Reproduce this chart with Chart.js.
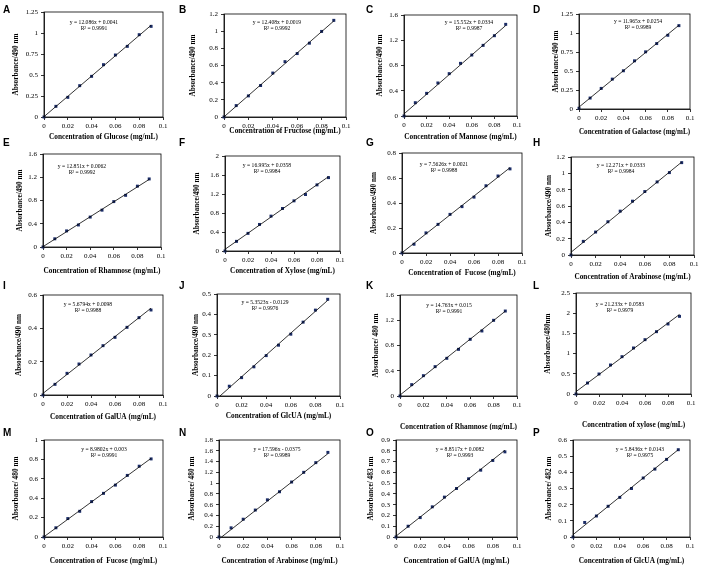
<!DOCTYPE html>
<html>
<head>
<meta charset="utf-8">
<script src="https://cdn.jsdelivr.net/npm/chart.js@4.4.0/dist/chart.umd.min.js"></script>
<style>
  body { margin: 0; background: #fff; width: 708px; height: 575px; position: relative; overflow: hidden; }
  canvas { position: absolute; }
  .tag { position: absolute; font: bold 10px "Liberation Sans", Arial, sans-serif; line-height: 10px; color: #000; }
</style>
</head>
<body>
<script>
// concentrations (mg/mL), same for every panel
const conc = [0, 0.01, 0.02, 0.03, 0.04, 0.05, 0.06, 0.07, 0.08, 0.09];

// absorbance readings, one array per panel
const glucose   = [0, 0.127, 0.234, 0.373, 0.484, 0.623, 0.738, 0.841, 0.98, 1.079];
const fructose  = [0, 0.133, 0.246, 0.367, 0.512, 0.645, 0.739, 0.86, 0.997, 1.126];
const mannose   = [0, 0.211, 0.359, 0.523, 0.671, 0.834, 0.966, 1.119, 1.272, 1.452];
const galactose = [0.01, 0.144, 0.271, 0.393, 0.503, 0.634, 0.752, 0.861, 0.97, 1.097];
const rhamnose  = [0, 0.141, 0.277, 0.379, 0.515, 0.634, 0.781, 0.889, 1.047, 1.171];
const xylose    = [0, 0.203, 0.371, 0.559, 0.734, 0.895, 1.056, 1.189, 1.392, 1.545];
const fucose    = [0, 0.07, 0.161, 0.229, 0.309, 0.371, 0.447, 0.538, 0.616, 0.673];
const arabinose = [0, 0.167, 0.281, 0.407, 0.537, 0.659, 0.777, 0.895, 1.009, 1.131];
const galua     = [0, 0.064, 0.13, 0.186, 0.24, 0.296, 0.346, 0.406, 0.464, 0.51];
const glcua     = [0, 0.048, 0.09, 0.143, 0.198, 0.249, 0.303, 0.362, 0.421, 0.474];
const rhamnose2 = [0, 0.18, 0.322, 0.465, 0.597, 0.739, 0.898, 1.03, 1.199, 1.346];
const xylose2   = [0, 0.272, 0.495, 0.718, 0.924, 1.139, 1.345, 1.543, 1.733, 1.922];
const fucose2   = [0, 0.095, 0.19, 0.265, 0.365, 0.45, 0.535, 0.635, 0.73, 0.805];
const arabinose2= [0, 0.17, 0.33, 0.5, 0.69, 0.84, 1.02, 1.2, 1.38, 1.57];
const galua2    = [0, 0.1, 0.18, 0.28, 0.37, 0.45, 0.54, 0.62, 0.71, 0.79];
const glcua2    = [0, 0.09, 0.13, 0.19, 0.245, 0.3, 0.365, 0.42, 0.48, 0.54];

const series = [glucose, fructose, mannose, galactose, rhamnose, xylose, fucose, arabinose,
  galua, glcua, rhamnose2, xylose2, fucose2, arabinose2, galua2, glcua2];

const letters = ["A", "B", "C", "D", "E", "F", "G", "H", "I", "J", "K", "L", "M", "N", "O", "P"];
const slopes = [12.086, 12.408, 15.552, 11.965, 12.851, 16.995, 7.5626, 12.271,
  5.6794, 5.3523, 14.763, 21.233, 8.9802, 17.596, 8.8517, 5.8436];
const intercepts = [0.0041, 0.0019, 0.0334, 0.0254, 0.0062, 0.0358, 0.0021, 0.0333,
  0.0098, -0.0129, 0.015, 0.0583, 0.003, -0.0375, 0.0082, 0.0143];
const r2 = ["0.9991", "0.9992", "0.9987", "0.9989", "0.9992", "0.9984", "0.9988", "0.9984",
  "0.9988", "0.9976", "0.9991", "0.9979", "0.9991", "0.9989", "0.9993", "0.9975"];
const yMax = [1.25, 1.2, 1.6, 1.25, 1.6, 2, 0.8, 1.2, 0.6, 0.5, 1.6, 2.5, 1, 1.8, 0.9, 0.6];
const yStep = [0.25, 0.2, 0.4, 0.25, 0.4, 0.4, 0.2, 0.2, 0.2, 0.1, 0.4, 0.5, 0.2, 0.2, 0.1, 0.1];
const yTitles = ["Absorbance/490 nm", "Absorbance/490 nm", "Absorbance/490 nm", "Absorbance/490 nm",
  "Absorbance/490 nm", "Absorbance/490 nm", "Absorbance/490 nm", "Absorbance/490 nm",
  "Absorbance/490 nm", "Absorbance/490 nm", "Absorbance/ 480 nm", "Absorbance/480nm",
  "Absorbance/ 480 nm", "Absorbance/ 480 nm", "Absorbance/ 483 nm", "Absorbance/ 482 nm"];
const xTitles = ["Glucose", "Fructose", "Mannose", "Galactose", "Rhamnose", "Xylose", " Fucose", "Arabinose",
  "GalUA", "GlcUA", "Rhamnose", "xylose", " Fucose", "Arabinose", "GalUA", "GlcUA"]
  .map(s => "Concentration of " + s + " (mg/mL)");

// page layout: [plotLeft, plotRight, plotTop, plotBottom, yTitleX, xTitleY, eqX, eqY]
const boxes = [
  [44, 163, 12, 117, 16, 137, 94, 23],
  [224, 346, 14, 117, 193, 131, 277, 23],
  [404, 517, 15, 116, 380, 137, 469, 23],
  [579, 690, 14, 109, 556, 132, 638, 22],
  [43, 161, 154, 247, 20, 271, 82, 167],
  [225, 340, 156, 251, 197, 271, 267, 166],
  [402, 522, 153, 253, 374, 273, 444, 165],
  [571, 694, 157, 255, 549, 277, 621, 166],
  [43, 163, 295, 395, 19, 417, 88, 305],
  [217, 340, 294, 396, 196, 416, 265, 303],
  [400, 517, 295, 396, 376, 427, 449, 306],
  [576, 691, 293, 394, 548, 425, 620, 305],
  [44, 163, 440, 537, 16, 561, 104, 450],
  [219, 340, 440, 537, 192, 561, 277, 450],
  [396, 517, 440, 537, 371, 561, 460, 450],
  [573, 690, 440, 537, 549, 561, 640, 450],
];
const rowTop = [0, 138, 280, 426];
const rowH = [145, 145, 150, 149];
const letterTop = [5, 138, 281, 428];
const letterX = [3, 179, 366, 533];

const serif = "'Liberation Serif', 'Times New Roman', serif";
const titleSize = 7.3;
const titleLh = titleSize * 1.2;
const fmt = v => String(+Number(v).toFixed(3));

const frame = {
  id: "frame",
  afterDraw(chart) {
    const a = chart.chartArea;
    const ctx = chart.ctx;
    ctx.save();
    ctx.strokeStyle = "#000";
    ctx.lineWidth = 0.8;
    ctx.strokeRect(a.left, a.top, a.right - a.left, a.bottom - a.top);
    ctx.restore();
  },
};

function equationText(i) {
  const b = intercepts[i];
  const sign = b < 0 ? "- " : "+ ";
  return ["y = " + slopes[i] + "x " + sign + Math.abs(b), "R\u00b2 = " + r2[i]];
}

function makePanel(i) {
  const col = i % 4, row = Math.floor(i / 4);
  const [L, R, T, B, ytx, xty, ex, ey] = boxes[i];
  const ox = col * 177, oy = rowTop[row], W = 177, H = rowH[row];

  const canvas = document.createElement("canvas");
  canvas.width = W;
  canvas.height = H;
  canvas.style.left = ox + "px";
  canvas.style.top = oy + "px";
  document.body.appendChild(canvas);

  const tag = document.createElement("div");
  tag.className = "tag";
  tag.style.left = letterX[col] + "px";
  tag.style.top = letterTop[row] + "px";
  tag.textContent = letters[i];
  document.body.appendChild(tag);

  const ys = series[i];
  const lines = equationText(i);
  const eq = {
    id: "eq",
    afterDraw(chart) {
      const ctx = chart.ctx;
      ctx.save();
      ctx.fillStyle = "#000";
      ctx.font = "5.6px " + serif;
      ctx.textAlign = "center";
      ctx.textBaseline = "middle";
      ctx.fillText(lines[0], ex - ox, ey - oy);
      ctx.fillText(lines[1], ex - ox, ey - oy + 6);
      ctx.restore();
    },
  };

  const tickFont = { family: serif, size: 7 };
  const titleFont = { family: serif, size: titleSize, weight: "bold" };

  new Chart(canvas.getContext("2d"), {
    data: {
      datasets: [
        {
          type: "line",
          data: [{ x: 0, y: intercepts[i] }, { x: 0.09, y: slopes[i] * 0.09 + intercepts[i] }],
          borderColor: "#000",
          borderWidth: 0.8,
          pointRadius: 0,
        },
        {
          type: "scatter",
          data: conc.map((x, k) => ({ x: x, y: ys[k] })),
          pointStyle: "rect",
          pointRadius: 2.1,
          backgroundColor: "#1b2c66",
          borderColor: "#1b2c66",
          borderWidth: 0,
          clip: false,
        },
      ],
    },
    options: {
      responsive: false,
      animation: false,
      devicePixelRatio: 1,
      layout: { padding: { left: 0, top: T - oy, right: ox + W - R, bottom: 0 } },
      plugins: { legend: { display: false }, tooltip: { enabled: false } },
      scales: {
        x: {
          type: "linear",
          position: "bottom",
          min: 0,
          max: 0.1,
          afterFit: (s) => { s.height = oy + H - B; },
          ticks: { stepSize: 0.02, callback: fmt, font: tickFont, color: "#000", padding: 2, maxRotation: 0, autoSkip: false },
          grid: { drawOnChartArea: false, tickLength: 3, color: "#000", lineWidth: 0.8 },
          border: { color: "#000", width: 0.8 },
          title: {
            display: true,
            text: xTitles[i],
            font: titleFont,
            color: "#000",
            padding: { top: 0, bottom: oy + H - xty - titleLh / 2 },
          },
        },
        y: {
          type: "linear",
          position: "left",
          min: 0,
          max: yMax[i],
          afterFit: (s) => { s.width = L - ox; },
          ticks: { stepSize: yStep[i], callback: fmt, font: tickFont, color: "#000", padding: 3, autoSkip: false },
          grid: { drawOnChartArea: false, tickLength: 3, color: "#000", lineWidth: 0.8 },
          border: { color: "#000", width: 0.8 },
          title: {
            display: true,
            text: yTitles[i],
            font: titleFont,
            color: "#000",
            padding: { top: ytx - ox - titleLh / 2, bottom: 0 },
          },
        },
      },
    },
    plugins: [frame, eq],
  });
}

for (let i = 0; i < 16; i++) makePanel(i);
</script>
</body>
</html>
